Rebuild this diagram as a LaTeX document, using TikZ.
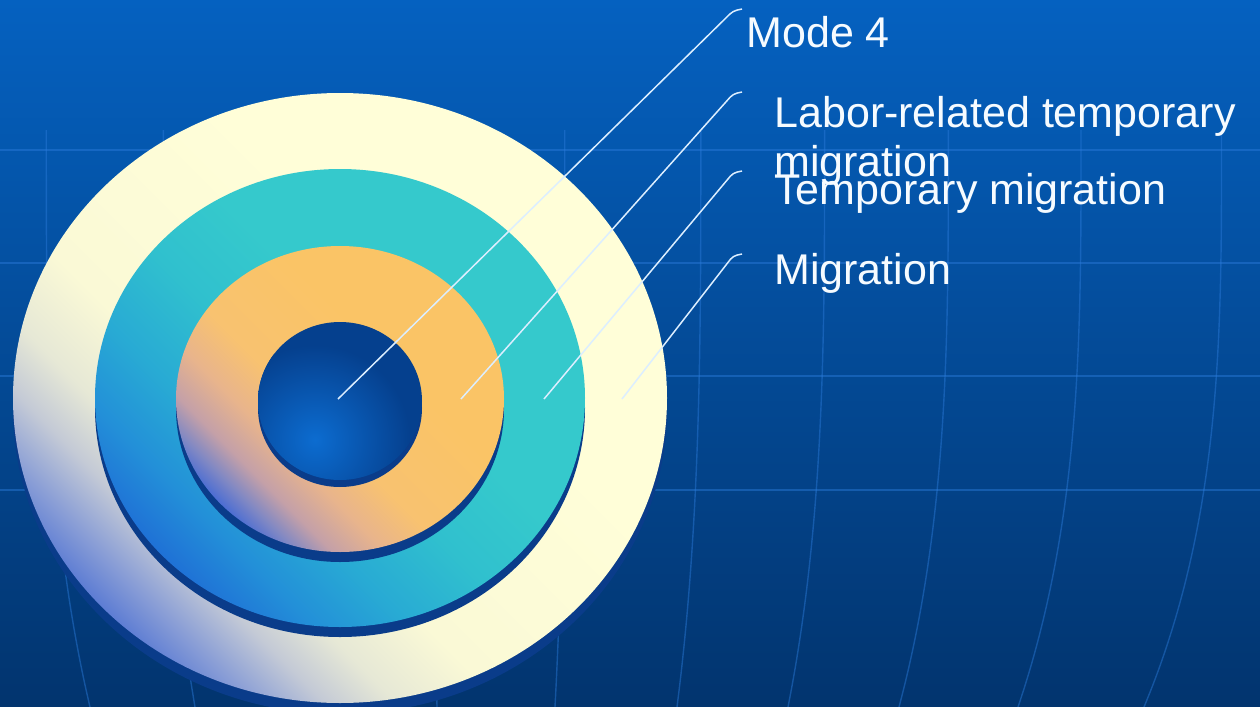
\documentclass[tikz,border=0pt]{standalone}
\usepackage{fontspec}
\setmainfont{Liberation Sans}
\usetikzlibrary{calc}
\definecolor{bgtop}{HTML}{0561C0}
\definecolor{bgbot}{HTML}{02346E}
\definecolor{shadowc}{HTML}{0A3C8A}
\definecolor{gridc}{HTML}{2C7CDC}
\definecolor{leaderc}{HTML}{DCEEFF}
\definecolor{textc}{HTML}{F6FBFF}
\definecolor{centerdark}{HTML}{05408E}
\definecolor{centerlight}{HTML}{0C6CD0}
% cream
\definecolor{ca}{HTML}{5F7ED4}
\definecolor{cb}{HTML}{8A9ED6}
\definecolor{cc}{HTML}{C4CAD6}
\definecolor{cd}{HTML}{E6E8D6}
\definecolor{ce}{HTML}{FAF9D6}
\definecolor{cf}{HTML}{FFFED8}
% teal
\definecolor{ta}{HTML}{1F72D6}
\definecolor{tb}{HTML}{2390D8}
\definecolor{tc}{HTML}{28AAD4}
\definecolor{td}{HTML}{30C0CE}
\definecolor{te}{HTML}{35C9CC}
% orange
\definecolor{oa}{HTML}{4E6ED2}
\definecolor{ob}{HTML}{8088C4}
\definecolor{oc}{HTML}{C4A0A8}
\definecolor{od}{HTML}{E8B48C}
\definecolor{oe}{HTML}{F8C270}
\definecolor{of}{HTML}{FAC466}
\pgfdeclarehorizontalshading{creamshade}{100bp}{color(0bp)=(ca); color(25bp)=(ca); color(28bp)=(cb); color(32bp)=(cc); color(36bp)=(cd); color(42bp)=(ce); color(60bp)=(cf); color(100bp)=(cf)}
\pgfdeclarehorizontalshading{tealshade}{100bp}{color(0bp)=(ta); color(25bp)=(ta); color(31bp)=(tb); color(38bp)=(tc); color(47bp)=(td); color(56bp)=(te); color(100bp)=(te)}
\pgfdeclarehorizontalshading{orangeshade}{100bp}{color(0bp)=(oa); color(25bp)=(oa); color(28bp)=(ob); color(32bp)=(oc); color(38bp)=(od); color(45bp)=(oe); color(60bp)=(of); color(100bp)=(of)}
\begin{document}
\begin{tikzpicture}[x=0.5pt,y=-0.5pt,
  gridline/.style={draw=gridc, line width=0.7pt, opacity=0.45},
  leaderline/.style={draw=leaderc, line width=0.75pt, rounded corners=2pt},
  lbl/.style={inner sep=0pt, anchor=base west, text=textc, font=\fontsize{21.5}{24}\selectfont},
  declare function={mt(\v)=max(0,(\v-150)/557); mx(\u,\v)=470+(\u-470)*(1.115-0.115*mt(\v)*mt(\v)*mt(\v));}]
\useasboundingbox (0,0) rectangle (1260,707);
% background
\shade[top color=bgtop, bottom color=bgbot] (0,0) rectangle (1260,707);
% globe grid
\foreach \h in {150,263,376,490} \draw[gridline] (0,\h) -- (1260,\h);
\foreach \b in {90,195,316,437,555,677,788,899,1018,1144}
  \draw[gridline] plot[domain=130:707, samples=30, smooth] ({mx(\b,\x)},\x);
% rings with shadows
\fill[shadowc] (340,409) ellipse [x radius=327, y radius=305];
\shade[shading=creamshade, shading angle=45] (340,398) ellipse [x radius=327, y radius=305];
\fill[shadowc] (340,408) ellipse [x radius=245, y radius=229];
\shade[shading=tealshade, shading angle=45] (340,398) ellipse [x radius=245, y radius=229];
\fill[shadowc] (340,409) ellipse [x radius=164, y radius=153];
\shade[shading=orangeshade, shading angle=45] (340,399) ellipse [x radius=164, y radius=153];
\fill[shadowc] (340,408) ellipse [x radius=82, y radius=79];
\begin{scope}
  \clip (340,401) ellipse [x radius=82, y radius=79];
  \fill[centerdark] (250,310) rectangle (430,490);
  \shade[inner color=centerlight, outer color=centerdark] (315,440) circle (95);
\end{scope}
% labels
\node[lbl] (mode) at (746,47) {Mode 4};
\node[lbl] (labor) at (774,127) {Labor-related temporary};
\node[lbl] (labor2) at (774,176) {migration};
\node[lbl] (temp) at (774,204) {Temporary migration};
\node[lbl] (migr) at (774,284) {Migration};
% leader lines
\coordinate (s1) at (338,399); \coordinate (k1) at (733,11);  \coordinate (e1) at (742,9);
\coordinate (s2) at (461,399); \coordinate (k2) at (733,94);  \coordinate (e2) at (742,92);
\coordinate (s3) at (544,399); \coordinate (k3) at (733,173); \coordinate (e3) at (742,171);
\coordinate (s4) at (622,399); \coordinate (k4) at (733,256); \coordinate (e4) at (742,254);
\draw[leaderline] (s1) -- (k1) -- (e1);
\draw[leaderline] (s2) -- (k2) -- (e2);
\draw[leaderline] (s3) -- (k3) -- (e3);
\draw[leaderline] (s4) -- (k4) -- (e4);
\end{tikzpicture}
\end{document}
